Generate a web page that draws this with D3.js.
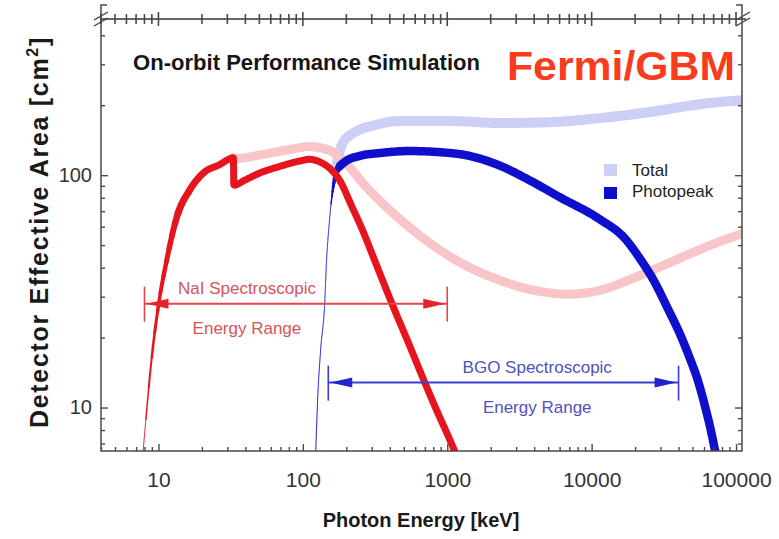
<!DOCTYPE html>
<html><head><meta charset="utf-8">
<script src="https://cdn.jsdelivr.net/npm/d3@7"></script>
<style>
body{margin:0;background:#fff;}
svg{display:block;font-family:"Liberation Sans",Arial,Helvetica,sans-serif;}
</style>
</head><body>
<svg id="chart" width="779" height="539"></svg>
<script>
// ---------------- data ----------------
const naiEnergy      = [7.8, 9.1, 10, 11.4, 13.5, 16.4, 20.8, 26.5, 31.5, 33.0, 33.3, 39.4, 50, 69, 95, 111, 135, 161, 180, 217, 259, 314, 419, 548, 675, 858, 991, 1150];
const naiPhotopeak   = [6.3, 17.6, 27.5, 43, 67, 86, 103, 111, 118, 119, 90.5, 95, 102, 109, 115, 117, 113, 104, 95, 74, 58, 43, 27.5, 18.5, 13.5, 9.51, 7.8, 6.3];

const naiTotalEnergy = [33.0, 34.7, 50, 81, 111, 153, 195, 268, 399, 644, 1219, 2307, 4365, 7047, 11376, 21530, 40800, 65900, 110000];
const naiTotal       = [119, 118, 122, 129, 133, 128, 114, 90.5, 70.7, 55, 42.2, 35.3, 31.6, 30.7, 31.9, 37, 43.9, 49.9, 56];

const bgoEnergy      = [122.6, 126.5, 132.7, 141.4, 146, 153, 161, 171, 195, 247, 340, 548, 885, 1429, 2307, 3724, 6012, 11376, 16950, 21530, 27350, 33650, 40800, 47860, 54360, 60800, 66990, 72400];
const bgoPhotopeak   = [6.3, 10.7, 17.6, 27.5, 43, 64, 86, 103, 114, 121, 124.5, 127, 125.6, 121, 110, 95, 80.4, 64.6, 53.5, 43.9, 34.6, 26.7, 20.8, 16.3, 13.1, 10.2, 7.96, 6.3];

const bgoTotalEnergy = [171, 188, 228, 314, 468, 1040, 2307, 5130, 11380, 25300, 56100, 110000];
const bgoTotal       = [110.5, 137, 153, 164, 171, 171, 167.5, 169, 176, 187, 202, 210];

const xTickValues = [10, 100, 1000, 10000, 100000];
const xTickLabels = ["10", "100", "1000", "10000", "100000"];
const yTickValues = [10, 100];
const yTickLabels = ["10", "100"];
const legendLabels = ["Total", "Photopeak"];

const naiRange = [8, 1000];        // keV, NaI spectroscopic range
const naiRangeLevel = 28;          // cm^2 (height of the annotation)
const bgoRange = [150, 40000];     // keV, BGO spectroscopic range
const bgoRangeLevel = 12.8;
const naiRangeText = ["NaI Spectroscopic", "Energy Range"];
const bgoRangeText = ["BGO Spectroscopic", "Energy Range"];
const naiLabelAt = 41;             // keV (label centre)
const bgoLabelAt = 4200;

const titleText = "On-orbit Performance Simulation";
const brandText = "Fermi/GBM";
const xTitle = "Photon Energy [keV]";

// ---------------- layout ----------------
const W = 779, H = 539;
const plot = {left: 101, right: 742, top: 19, bottom: 451};
const axisColor = "#4a4a4a";

const svg = d3.select("#chart");
svg.append("rect").attr("width", W).attr("height", H).attr("fill", "#fff");

const x = d3.scaleLog().domain([4, 110000]).range([plot.left, plot.right]);
const y = d3.scaleLog().domain([6.5, 470]).range([plot.bottom, plot.top]);

svg.append("defs").append("clipPath").attr("id", "clip")
  .append("rect").attr("x", plot.left).attr("y", plot.top)
  .attr("width", plot.right - plot.left).attr("height", plot.bottom - plot.top);

const line = d3.line().x(d => x(d[0])).y(d => y(d[1])).curve(d3.curveMonotoneX);

const gPlot = svg.append("g").attr("clip-path", "url(#clip)");

// totals (light, underneath)
gPlot.append("path").datum(d3.zip(bgoTotalEnergy, bgoTotal))
  .attr("d", line).attr("fill", "none").attr("stroke", "#cdd0f6")
  .attr("stroke-width", 10).attr("stroke-linecap", "round").attr("stroke-linejoin", "round");
gPlot.append("path").datum(d3.zip(naiTotalEnergy, naiTotal))
  .attr("d", line).attr("fill", "none").attr("stroke", "#f8c6c9")
  .attr("stroke-width", 9).attr("stroke-linecap", "round").attr("stroke-linejoin", "round");

// range annotations
function rangeArrow(range, level, color, headColor) {
  const g = svg.append("g");
  const x0 = x(range[0]), x1 = x(range[1]), yy = y(level);
  g.append("line").attr("x1", x0).attr("x2", x1).attr("y1", yy).attr("y2", yy)
    .attr("stroke", color).attr("stroke-width", 2);
  [x0, x1].forEach(xx => g.append("line").attr("x1", xx).attr("x2", xx)
    .attr("y1", yy - 17).attr("y2", yy + 18).attr("stroke", color).attr("stroke-width", 1.6));
  const hl = 22, hw = 5;
  g.append("path").attr("d", `M${x0 + 2},${yy} L${x0 + 2 + hl},${yy - hw} L${x0 + 2 + hl},${yy + hw} Z`).attr("fill", headColor);
  g.append("path").attr("d", `M${x1 - 2},${yy} L${x1 - 2 - hl},${yy - hw} L${x1 - 2 - hl},${yy + hw} Z`).attr("fill", headColor);
  return yy;
}
const naiY = rangeArrow(naiRange, naiRangeLevel, "#e4454b", "#e8222c");
const bgoY = rangeArrow(bgoRange, bgoRangeLevel, "#3c3cd6", "#2424cf");

function rangeText(lines, at, yy, color) {
  svg.append("text").attr("x", x(at)).attr("y", yy - 10).attr("text-anchor", "middle")
    .attr("font-size", 17).attr("fill", color).text(lines[0]);
  svg.append("text").attr("x", x(at)).attr("y", yy + 30).attr("text-anchor", "middle")
    .attr("font-size", 17).attr("fill", color).text(lines[1]);
}
rangeText(naiRangeText, naiLabelAt, naiY, "#d5545a");
rangeText(bgoRangeText, bgoLabelAt, bgoY, "#5151bd");

// photopeaks with tapered thin rising edge
function tapered(E, A, color, wFn) {
  const tmp = gPlot.append("path").attr("d", line(d3.zip(E, A))).attr("fill", "none");
  const node = tmp.node(), L = node.getTotalLength();
  const pts = d3.range(0, L, 1).concat([L]).map(l => { const p = node.getPointAtLength(l); return [p.x, p.y]; });
  tmp.remove();
  const groups = []; let cur = null;
  pts.forEach(p => {
    const w = Math.round(wFn(x.invert(p[0])) * 2) / 2;
    if (!cur || cur.w !== w) {
      const prev = cur ? cur.pts[cur.pts.length - 1] : null;
      cur = {w, pts: prev ? [prev] : []};
      groups.push(cur);
    }
    cur.pts.push(p);
  });
  groups.forEach(gr => gPlot.append("path").attr("d", d3.line()(gr.pts))
    .attr("fill", "none").attr("stroke", color).attr("stroke-width", gr.w)
    .attr("stroke-linecap", "round").attr("stroke-linejoin", "round"));
}
const clamp01 = v => Math.max(0, Math.min(1, v));
tapered(bgoEnergy, bgoPhotopeak, "#1010cc", E => 1.2 + 7.3 * clamp01(Math.log(E / 157) / Math.log(185 / 157)));
tapered(naiEnergy, naiPhotopeak, "#e5141d", E => 1 + 6 * clamp01(Math.log(E / 8) / Math.log(14 / 8)));

// ---------------- axes ----------------
const xMinor = [];
for (let k = 0; k <= 5; k++) for (let m = 2; m <= 9; m++) {
  const v = m * Math.pow(10, k);
  if (v >= 4 && v <= 110000) xMinor.push(v);
}
const yMinor = [];
for (let k = 0; k <= 2; k++) for (let m = 2; m <= 9; m++) {
  const v = m * Math.pow(10, k);
  if (v >= 6.5 && v <= 470) yMinor.push(v);
}

function styleAxis(g) {
  g.select(".domain").remove();
  g.attr("font-family", null).attr("font-size", null);
  g.selectAll(".tick line").attr("stroke", axisColor).attr("stroke-width", 1.4);
  g.selectAll(".tick text").attr("fill", "#333");
}

// bottom
svg.append("g").attr("transform", `translate(0,${plot.bottom})`)
  .call(d3.axisBottom(x).tickValues(xMinor).tickSize(-4).tickFormat("")).call(styleAxis);
svg.append("g").attr("transform", `translate(0,${plot.bottom})`)
  .call(d3.axisBottom(x).tickValues(xTickValues).tickSize(-7).tickPadding(21)
    .tickFormat((d, i) => xTickLabels[i])).call(styleAxis)
  .selectAll(".tick text").attr("font-size", 21);
// left
svg.append("g").attr("transform", `translate(${plot.left},0)`)
  .call(d3.axisLeft(y).tickValues(yMinor).tickSize(-4).tickFormat("")).call(styleAxis);
svg.append("g").attr("transform", `translate(${plot.left},0)`)
  .call(d3.axisLeft(y).tickValues(yTickValues).tickSize(-7).tickPadding(9)
    .tickFormat((d, i) => yTickLabels[i])).call(styleAxis)
  .selectAll(".tick text").attr("font-size", 20);
// right
svg.append("g").attr("transform", `translate(${plot.right},0)`)
  .call(d3.axisRight(y).tickValues(yMinor).tickSize(-4).tickFormat("")).call(styleAxis);
svg.append("g").attr("transform", `translate(${plot.right},0)`)
  .call(d3.axisRight(y).tickValues(yTickValues).tickSize(-7).tickFormat("")).call(styleAxis);

// top (broken) axis with straddling ticks
const gTop = svg.append("g");
gTop.append("line").attr("x1", plot.left).attr("x2", plot.right + 4).attr("y1", plot.top).attr("y2", plot.top)
  .attr("stroke", "#666").attr("stroke-width", 2);
gTop.selectAll(".tmin").data(xMinor).join("line")
  .attr("x1", d => x(d)).attr("x2", d => x(d)).attr("y1", plot.top - 5).attr("y2", plot.top + 5)
  .attr("stroke", axisColor).attr("stroke-width", 1.6);
gTop.selectAll(".tmaj").data(xTickValues).join("line")
  .attr("x1", d => x(d)).attr("x2", d => x(d)).attr("y1", plot.top - 7).attr("y2", plot.top + 7)
  .attr("stroke", axisColor).attr("stroke-width", 1.6);
[plot.left, plot.right + 1].forEach(xx => {
  [-3, 3].forEach(o => gTop.append("line")
    .attr("x1", xx - 7).attr("y1", plot.top + 4 + o).attr("x2", xx + 7).attr("y2", plot.top - 4 + o)
    .attr("stroke", "#444").attr("stroke-width", 1.4));
});

// frame
const frame = svg.append("g").attr("stroke", axisColor).attr("stroke-width", 1.5).attr("fill", "none");
frame.append("path").attr("d", `M${plot.left + 6},5 H${plot.left} V${plot.bottom} H${plot.right} V5 H${plot.right - 6}`);

// ---------------- legend ----------------
const legendColors = ["#cdd0f6", "#0c0ccd"];
legendLabels.forEach((lab, i) => {
  svg.append("rect").attr("x", 604).attr("y", 164 + i * 23).attr("width", 13).attr("height", 12).attr("fill", legendColors[i]);
  svg.append("text").attr("x", 632).attr("y", 176 + i * 21).attr("font-size", 17).attr("fill", "#222").text(lab);
});

// ---------------- titles ----------------
svg.append("text").attr("x", 133).attr("y", 70).attr("font-size", 22).attr("font-weight", "bold")
  .attr("fill", "#161616").attr("textLength", 347).attr("lengthAdjust", "spacingAndGlyphs").text(titleText);
svg.append("text").attr("x", 507).attr("y", 80).attr("font-size", 40).attr("font-weight", "bold")
  .attr("fill", "#fa3c1e").attr("textLength", 228).attr("lengthAdjust", "spacingAndGlyphs").text(brandText);

svg.append("text").attr("x", 421).attr("y", 527).attr("text-anchor", "middle").attr("font-size", 20)
  .attr("font-weight", "bold").attr("fill", "#1a1a1a").text(xTitle);

const yt = svg.append("text").attr("transform", "translate(48,232) rotate(-90)")
  .attr("text-anchor", "middle").attr("font-size", 25).attr("font-weight", "bold").attr("fill", "#1a1a1a");
yt.append("tspan").text("Detector Effective Area [cm");
yt.append("tspan").attr("font-size", 16).attr("dy", -10).text("2");
yt.append("tspan").attr("dy", 10).text("]");
const natural = yt.node().getComputedTextLength();
const nChars = "Detector Effective Area [cm2]".length;
yt.attr("letter-spacing", Math.max(0, (392 - natural) / nChars));
</script>
</body></html>
